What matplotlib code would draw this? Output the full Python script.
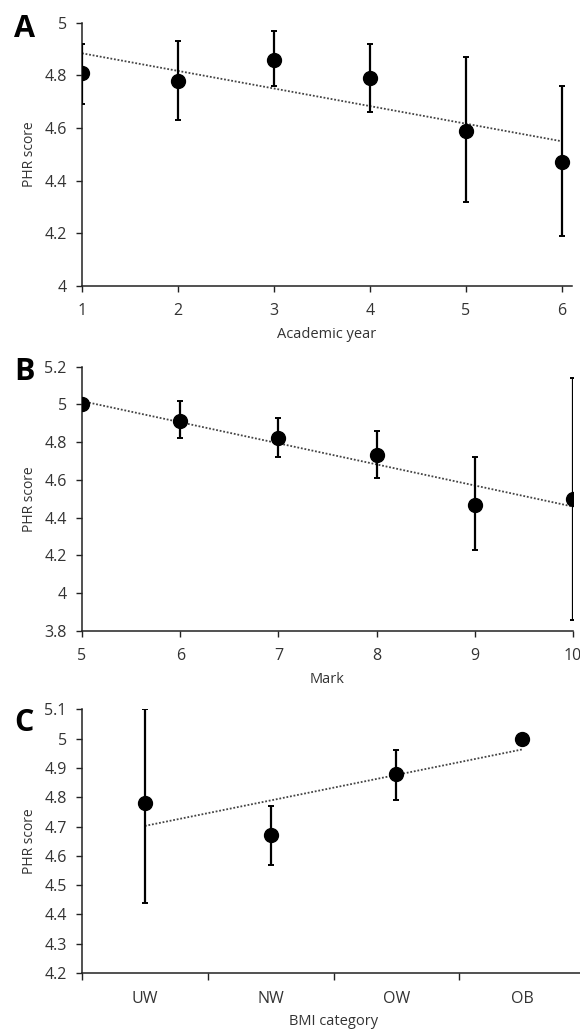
import numpy as np
import matplotlib
matplotlib.use('Agg')
import matplotlib.pyplot as plt
from matplotlib.ticker import FuncFormatter

plt.rcParams['font.family'] = ['Open Sans', 'DejaVu Sans']

# panel A: academic year
year = [1, 2, 3, 4, 5, 6]
year_mean = [4.81, 4.78, 4.86, 4.79, 4.59, 4.47]
year_low = [4.69, 4.63, 4.76, 4.66, 4.32, 4.19]
year_high = [4.92, 4.93, 4.97, 4.92, 4.87, 4.76]

# panel B: mark
mark = [5, 6, 7, 8, 9, 10]
mark_mean = [5.00, 4.91, 4.82, 4.73, 4.47, 4.50]
mark_low = [5.00, 4.82, 4.72, 4.61, 4.23, 3.86]
mark_high = [5.00, 5.02, 4.93, 4.86, 4.72, 5.14]

# panel C: BMI category
bmi = ['UW', 'NW', 'OW', 'OB']
bmi_mean = [4.78, 4.67, 4.88, 5.00]
bmi_low = [4.44, 4.57, 4.79, 5.00]
bmi_high = [5.10, 4.77, 4.96, 5.00]

W, H = 580, 1032
fig = plt.figure(figsize=(W / 100, H / 100), dpi=100)

txt = '#333333'
fmt = FuncFormatter(lambda v, p: ('%g' % round(v, 2)))


def panel(ax, x, m, lo, hi, trend_x):
    m = np.array(m)
    yerr = [m - np.array(lo), np.array(hi) - m]
    ax.errorbar(x, m, yerr=yerr, fmt='o', color='black', ms=10,
                elinewidth=1.6, capsize=2.5, capthick=1.4, zorder=3)
    # linear trend of the means
    k, b = np.polyfit(trend_x, m, 1)
    ax.plot([trend_x[0], trend_x[-1]], [k * trend_x[0] + b, k * trend_x[-1] + b],
            color='#444444', lw=1.3, dashes=(1, 1), zorder=2)
    for s in ['top', 'right']:
        ax.spines[s].set_visible(False)
    for s in ['left', 'bottom']:
        ax.spines[s].set_color('#222222')
        ax.spines[s].set_linewidth(1.1)
    ax.tick_params(axis='both', direction='out', length=4, width=1.0,
                   color='#222222', labelsize=11.5, labelcolor=txt)
    ax.tick_params(axis='y', pad=7)
    ax.tick_params(axis='x', pad=8)
    ax.yaxis.set_major_formatter(fmt)
    ax.set_ylabel('PHR score', fontsize=10, color=txt, labelpad=5)


def axpos(top, bottom, right):
    return [82 / W, 1 - bottom / H, (right - 82) / W, (bottom - top) / H]


# A
axA = fig.add_axes(axpos(22.7, 286, 572))
panel(axA, year, year_mean, year_low, year_high, np.array(year, float))
axA.set_xlim(1, 6 + 10 / 96)
axA.set_ylim(4, 5)
axA.set_xticks(year)
axA.set_yticks(np.arange(4, 5.01, 0.2))
axA.set_xlabel('Academic year', fontsize=10.5, color=txt, labelpad=6)

# B
axB = fig.add_axes(axpos(366.7, 631, 573))
panel(axB, mark, mark_mean, mark_low, mark_high, np.array(mark, float))
axB.set_xlim(5, 10)
axB.set_ylim(3.8, 5.2)
axB.set_xticks(mark)
axB.set_yticks(np.arange(3.8, 5.21, 0.2))
axB.set_xlabel('Mark', fontsize=10.5, color=txt, labelpad=6)

# C
cx = np.arange(len(bmi))
axC = fig.add_axes(axpos(709.3, 973, 585))
panel(axC, cx, bmi_mean, bmi_low, bmi_high, cx.astype(float))
axC.set_xlim(-0.5, len(bmi) - 0.5)
axC.set_ylim(4.2, 5.1)
axC.set_xticks(cx)
axC.set_xticklabels(bmi)
axC.set_xticks(np.arange(-0.5, len(bmi), 1), minor=True)
axC.tick_params(axis='x', which='major', length=0, pad=13)
axC.tick_params(axis='x', which='minor', length=5, width=1.0, color='#222222')
axC.set_yticks(np.arange(4.2, 5.11, 0.1))
axC.set_xlabel('BMI category', fontsize=10.5, color=txt, labelpad=5)

for lab, y in [('A', 29), ('B', 372), ('C', 723)]:
    fig.text(14 / W, 1 - y / H, lab, fontsize=22, fontweight='bold',
             va='center', ha='left', color='black')

fig.savefig('out.png', dpi=100)
